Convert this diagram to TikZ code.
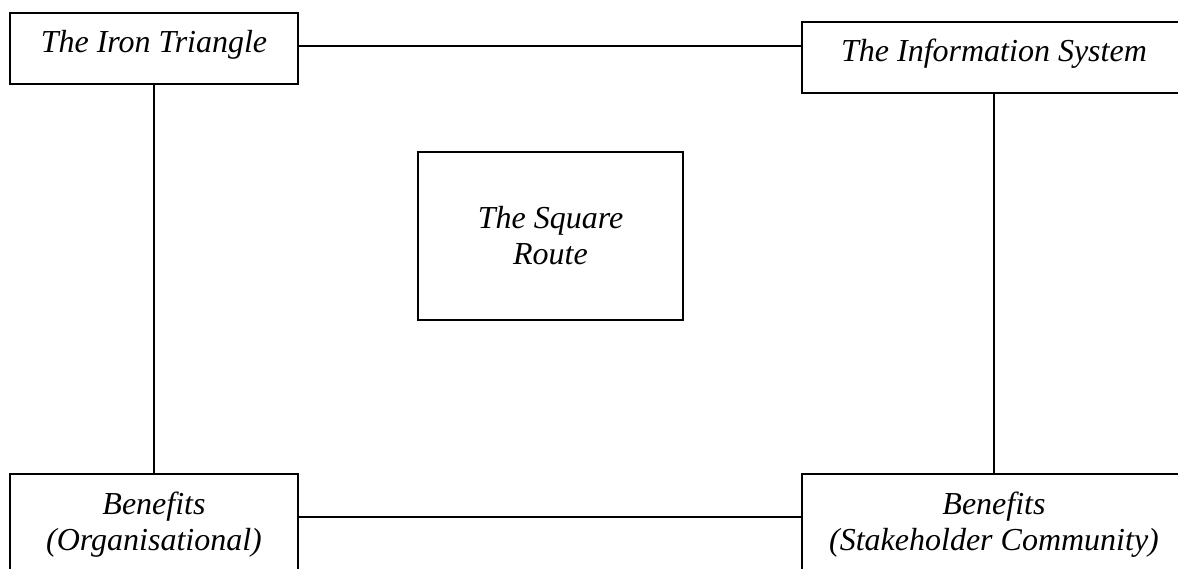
\documentclass[tikz,border=0pt]{standalone}
\usepackage{fontspec}
\setmainfont{Liberation Serif}
\begin{document}
\begin{tikzpicture}[x=1pt,y=-1pt,
  box/.style={draw,line width=1.3pt,rectangle,inner sep=0pt,align=center,
    font=\fontsize{32}{36}\selectfont\itshape},
  topbox/.style={box,minimum height=71pt,text height=22pt,text depth=13pt},
  lowbox/.style={box,minimum height=102pt},
  link/.style={line width=1.3pt}]
  \useasboundingbox (0,0) rectangle (1178,569);
  \clip (0,0) rectangle (1178,569);
  % fill the page white
  \fill[white] (0,0) rectangle (1178,569);

  % corner boxes
  \node[topbox,minimum width=288pt] (iron) at (154,48.5) {The Iron Triangle};
  \node[topbox,minimum width=384pt] (info) at (994,57.5) {The Information System};
  \node[lowbox,minimum width=288pt] (borg) at (154,525) {Benefits\\(Organisational)};
  \node[lowbox,minimum width=384pt] (bsh)  at (994,525) {Benefits\\(Stakeholder Community)};

  % central box
  \node[box,minimum width=265pt,minimum height=168pt] (sq) at (550.5,236) {The Square\\Route};

  % connectors
  \draw[link] (iron.east |- 0,46) -- (info.west |- 0,46);
  \draw[link] (iron.south) -- (borg.north);
  \draw[link] (info.south) -- (bsh.north);
  \draw[link] (borg.east |- 0,517) -- (bsh.west |- 0,517);
\end{tikzpicture}
\end{document}
